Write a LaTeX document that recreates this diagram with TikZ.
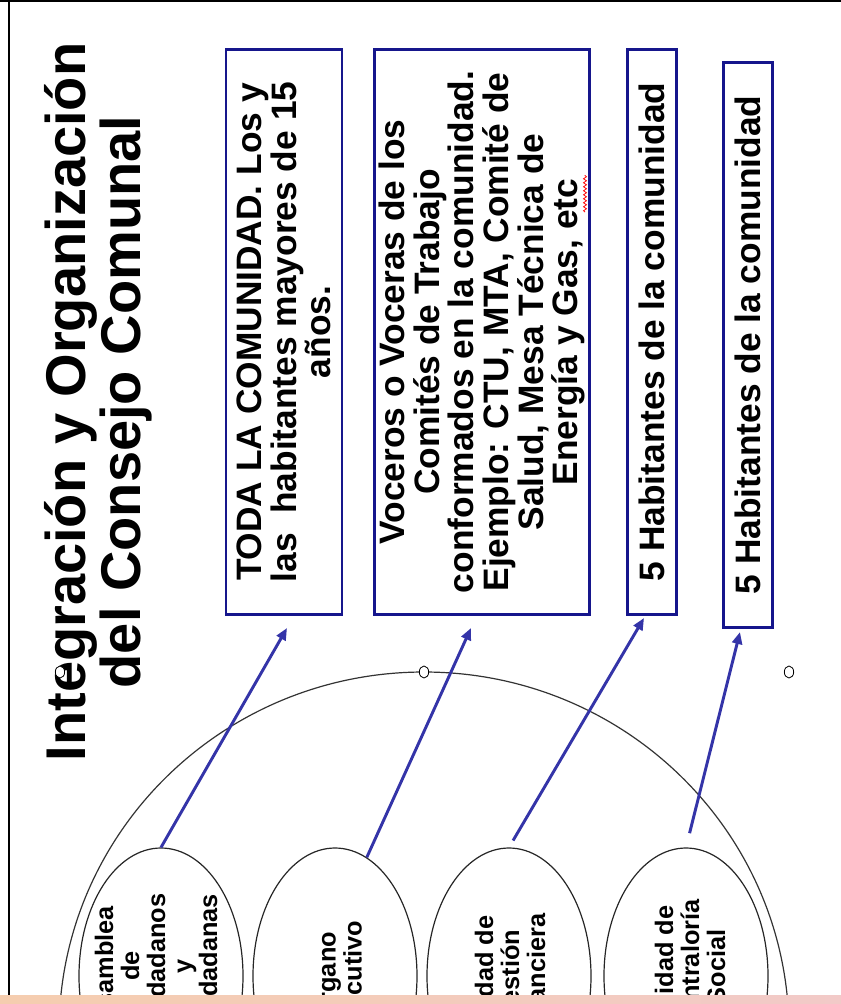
\documentclass[tikz,border=0pt]{standalone}
\usepackage{fontspec}
\setmainfont{Liberation Sans}
\usetikzlibrary{shapes.geometric,arrows.meta,decorations.pathmorphing}
\definecolor{boxblue}{RGB}{22,22,140}
\definecolor{linkblue}{RGB}{52,52,168}
\tikzset{
	infobox/.style={draw=boxblue,line width=2.2pt,rotate=90,align=center,inner sep=0pt,minimum width=424pt,font=\bfseries\fontsize{26.5}{26}\selectfont},
	blob/.style={draw=black!85,line width=0.9pt,ellipse,minimum width=123pt,minimum height=192pt,inner sep=0pt},
	blobtxt/.style={rotate=90,align=center,inner sep=0pt,font=\bfseries\fontsize{19}{19.5}\selectfont},
	ring/.style={draw=black!80,line width=0.9pt,ellipse,minimum width=547.5pt,minimum height=540pt,inner sep=0pt},
	handle/.style={draw=black,fill=white,ellipse,line width=0.6pt,minimum width=7pt,minimum height=9pt,inner sep=0pt},
	link/.style={linkblue,line width=2.2pt,-{Triangle[length=9pt,width=7.5pt]}},
	squiggle/.style={red,line width=0.6pt,decorate,decoration={snake,amplitude=1.1pt,segment length=3pt}}
}
\begin{document}
\begin{tikzpicture}[x=0.75pt,y=-0.75pt]
	\useasboundingbox (0,0) rectangle (841,1004);
	% Page edge
	\draw [line width=1.5pt] (0,1) -- (841,1) (9,1) -- (9,995);
	% Title
	\node [rotate=90,align=center,inner sep=0pt,font=\bfseries\fontsize{42}{41}\selectfont] (title) at (98,402) {Integración y Organización\\del\ Consejo\ Comunal};
	% Boxes
	\node [infobox,minimum height=87pt] (comunidad) at (284,332) {TODA LA COMUNIDAD. Los y\\las\ \ habitantes mayores de 15\\años.};
	\node [infobox,minimum height=161pt] (voceros) at (482,332) {Voceros o Voceras de los\\Comités de Trabajo\\conformados en la comunidad.\\Ejemplo: CTU, MTA, Comité de\\Salud, Mesa Técnica de\\Energía y Gas, etc};
	\node [infobox,minimum height=37pt] (finanzas) at (652,332) {5 Habitantes de la comunidad};
	\node [infobox,minimum height=37pt] (contralor) at (748,345) {5 Habitantes de la comunidad};
	\draw [squiggle] (585,212) -- (585,175);
	% Consejo and its units
	\node [ring] (consejo) at (424,1032) {};
	\node [blob] (asamblea) at (161,976) {};
	\node [blob] (organo) at (335,976) {};
	\node [blob] (gestion) at (509,976) {};
	\node [blob] (contraloria) at (686,976) {};
	\node [blobtxt] (asambleatxt) at (156,966) {Asamblea\\de\\Ciudadanos\\y\\Ciudadanas};
	\node [blobtxt] (organotxt) at (340,977) {Órgano\\Ejecutivo};
	\node [blobtxt] (gestiontxt) at (510,977) {Unidad de\\Gestión\\Financiera};
	\node [blobtxt] (contraloriatxt) at (690,967) {Unidad de\\Contraloría\\Social};
	\node [handle] (h1) at (60,672) {};
	\node [handle] (h2) at (424,672) {};
	\node [handle] (h3) at (789,672) {};
	% Arrows
	\coordinate (t1) at (287,628);
	\coordinate (t2) at (471,628);
	\coordinate (t3) at (644,618);
	\coordinate (t4) at (740,632);
	\draw [link] (asamblea.north) -- (t1);
	\draw [link] (organo.75) -- (t2);
	\draw [link,shorten <=6pt] (gestion.north) -- (t3);
	\draw [link,shorten <=11pt] (contraloria.north) -- (t4);
	% Bottom strip
	\shade [left color={rgb,255:red,245;green,205;blue,175},middle color={rgb,255:red,228;green,212;blue,212},right color={rgb,255:red,242;green,202;blue,200}] (0,995) rectangle (841,1004);
\end{tikzpicture}
\end{document}
